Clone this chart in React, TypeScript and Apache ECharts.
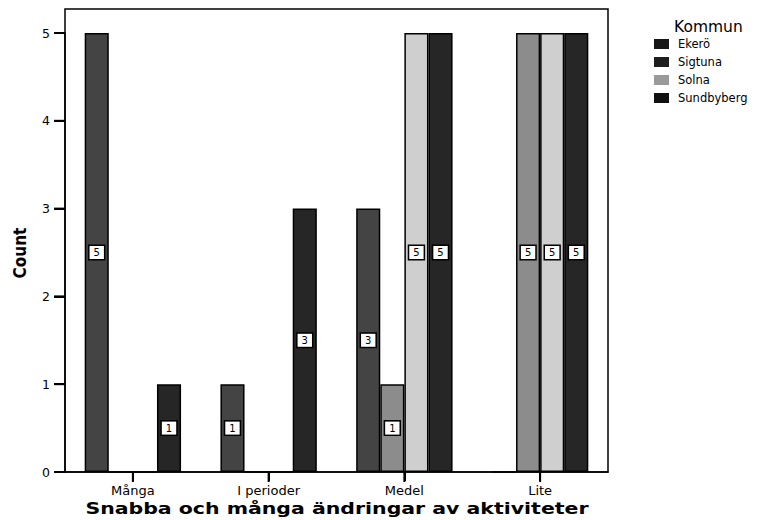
import React, { useEffect, useRef } from "react";
import * as echarts from "echarts";

const categories = ["Många", "I perioder", "Medel", "Lite"];
const seriesNames = ["Ekerö", "Sigtuna", "Solna", "Sundbyberg"];
const ekero = [5, 1, 3, 0];
const sigtuna = [0, 0, 1, 5];
const solna = [0, 0, 5, 5];
const sundbyberg = [1, 3, 5, 5];
const xTitle = "Snabba och många ändringar av aktiviteter";
const yTitle = "Count";
const legendTitle = "Kommun";

const barColors = ["#444444", "#8c8c8c", "#cfcfcf", "#262626"];
const legendColors = ["#161616", "#1e1e1e", "#9a9a9a", "#111111"];

export default function App() {
  const ref = useRef<HTMLDivElement>(null);
  useEffect(() => {
    if (!ref.current) return;
    const chart = echarts.init(ref.current, null, { renderer: "svg" });
    const allValues = [ekero, sigtuna, solna, sundbyberg];
    const font = "DejaVu Sans, Liberation Sans, sans-serif";
    chart.setOption({
      animation: false,
      backgroundColor: "#ffffff",
      title: {
        text: legendTitle,
        left: 669,
        top: 14,
        textStyle: { fontFamily: font, fontSize: 15.5, fontWeight: "normal", color: "#000" },
      },
      legend: {
        orient: "vertical",
        left: 649,
        top: 33,
        itemWidth: 15,
        itemHeight: 10,
        itemGap: 6,
        icon: "rect",
        textStyle: { fontFamily: font, fontSize: 11.5, color: "#000", padding: [0, 0, 0, 4] },
        data: seriesNames.map((n, i) => ({ name: n, itemStyle: { color: legendColors[i], borderWidth: 0 } })),
      },
      graphic: [
        {
          type: "rect",
          shape: { x: 65, y: 9, width: 543, height: 463 },
          style: { fill: "none", stroke: "#000", lineWidth: 1.5 },
          z: 10,
        },
        {
          type: "text",
          x: 20,
          y: 253,
          rotation: Math.PI / 2,
          style: {
            text: yTitle,
            fontFamily: "Liberation Sans Narrow, DejaVu Sans Condensed, Liberation Sans, sans-serif",
            fontSize: 17,
            fontWeight: "bold",
            fill: "#000",
            align: "center",
            verticalAlign: "middle",
          },
        },
        {
          type: "text",
          x: 337,
          y: 508,
          scaleX: 1.28,
          style: {
            text: xTitle,
            fontFamily: font,
            fontSize: 16,
            fontWeight: "bold",
            fill: "#000",
            align: "center",
            verticalAlign: "middle",
          },
        },
      ],
      grid: {
        left: 65,
        right: 162,
        top: 33,
        bottom: 48,
        show: false,
      },
      xAxis: {
        type: "category",
        data: categories,
        axisLine: { lineStyle: { color: "#000", width: 1.5 } },
        axisTick: { show: true, alignWithLabel: true, length: 9, lineStyle: { color: "#000", width: 2 } },
        axisLabel: {
          margin: 0,
          formatter: (v: string) => `{t| }\n{v|${v}}`,
          rich: {
            t: { width: 2, height: 10, lineHeight: 10, fontSize: 1, backgroundColor: "#000", align: "center" },
            v: { fontFamily: font, fontSize: 13, color: "#000", align: "center", lineHeight: 15, padding: [1, 0, 0, 0] },
          },
        },
      },
      yAxis: {
        type: "value",
        min: 0,
        max: 5,
        interval: 1,
        splitLine: { show: false },
        axisLine: { show: true, lineStyle: { color: "#000", width: 1.5 } },
        axisTick: { show: true, length: 11, lineStyle: { color: "#000", width: 2 } },
        axisLabel: {
          margin: 0,
          formatter: (v: number) => `{v|${v}}{t| }`,
          rich: {
            v: { fontFamily: font, fontSize: 12.5, color: "#000", padding: [0, 4, 0, 0] },
            t: { width: 11, height: 2, fontSize: 1, backgroundColor: "#000" },
          },
        },
      },
      series: seriesNames.map((name, i) => ({
        name,
        type: "bar",
        barGap: "0%",
        barCategoryGap: "29%",
        itemStyle: { color: barColors[i], borderColor: "#000", borderWidth: 1.5 },
        label: {
          show: true,
          position: "inside",
          fontFamily: font,
          fontSize: 10,
          color: "#000",
          backgroundColor: "#fff",
          borderColor: "#000",
          borderWidth: 1.5,
          padding: [2, 4, 1, 4],
        },
        data: allValues[i].map((v) => (v === 0 ? { value: v, label: { show: false } } : v)),
      })),
    });
    return () => chart.dispose();
  }, []);
  return <div ref={ref} style={{ width: 770, height: 520, position: "absolute", left: 0, top: 0 }} />;
}
